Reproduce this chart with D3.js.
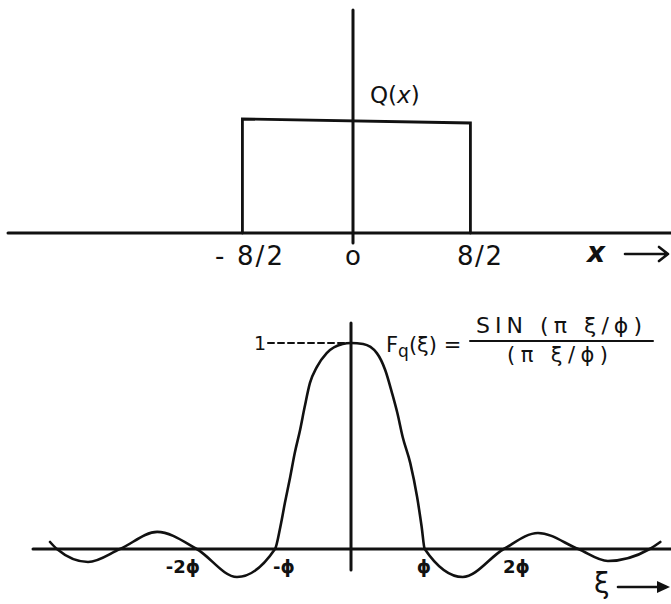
<!DOCTYPE html>
<html>
<head>
<script src="https://cdn.jsdelivr.net/npm/d3@7"></script>
<style>
  body { margin: 0; background: #fff; }
  text { font-family: "DejaVu Sans", sans-serif; fill: #111; }
</style>
</head>
<body>
<svg width="671" height="604"></svg>
<script>
// top panel: Q(x), edges in units of the half width, heights
var qEdges = [-0.97, 1.03];
var qLevels = [1.0, 0.965];
var qTicks = [-1, 0, 1];
var qTickLabels = ["- 8/2", "o", "8/2"];

// bottom panel: F_q(xi) as drawn by hand, xi in units of phi
var fXi = [-3.96, -3.87, -3.46, -3.04, -2.55, -2.03, -1.50, -1.0, -0.93, -0.87, -0.80, -0.74,
           -0.67, -0.61, -0.54, -0.45, -0.32, -0.11, 0, 0.16, 0.34, 0.45, 0.54, 0.61,
           0.68, 0.78, 0.87, 0.93, 0.97, 1.47, 2.01, 2.46, 2.99, 3.38, 3.93, 4.07];
var fVal = [0.034, 0, -0.063, 0, 0.083, 0, -0.136, 0, 0.107, 0.223, 0.35, 0.466,
            0.578, 0.689, 0.806, 0.883, 0.951, 0.995, 1, 0.995, 0.951, 0.869, 0.757, 0.66,
            0.544, 0.417, 0.252, 0.107, 0, -0.136, 0, 0.078, 0, -0.058, 0, 0.034];
var fTicks = [-2, -1, 1, 2];
var fTickLabels = ["-2\u03D5", "-\u03D5", "\u03D5", "2\u03D5"];
var fAnchors = ["end", "start", "middle", "start"];

var ink = "#111";
var svg = d3.select("svg");

// ---------- top ----------
var xTop = d3.scaleLinear().domain([-1, 1]).range([239, 467]);
var yTop = d3.scaleLinear().domain([0, 1]).range([233, 119]);

var gTop = svg.append("g").attr("stroke", ink).attr("fill", "none").attr("stroke-linecap", "round");

gTop.append("line")
    .attr("x1", 8).attr("x2", 671)
    .attr("y1", yTop(0)).attr("y2", yTop(0))
    .attr("stroke-width", 3);
gTop.append("line")
    .attr("x1", xTop(0)).attr("x2", xTop(0))
    .attr("y1", 10).attr("y2", yTop(0) + 10)
    .attr("stroke-width", 3);

var rectPts = [[qEdges[0], 0], [qEdges[0], qLevels[0]], [qEdges[1], qLevels[1]], [qEdges[1], 0]];
gTop.append("path")
    .attr("d", d3.line().x(function (d) { return xTop(d[0]); }).y(function (d) { return yTop(d[1]); })(rectPts))
    .attr("stroke-width", 2.8)
    .attr("stroke-linejoin", "miter");

svg.selectAll(".qtick")
    .data(qTicks)
    .enter().append("text")
    .attr("class", "qtick")
    .attr("x", function (d, i) { return xTop(d) + [-24, 0, -10][i]; })
    .attr("y", 265)
    .attr("text-anchor", function (d, i) { return ["start", "middle", "start"][i]; })
    .attr("textLength", function (d, i) { return [68, null, 45][i]; })
    .attr("lengthAdjust", "spacing")
    .style("font-size", "26px")
    .text(function (d, i) { return qTickLabels[i]; });

var qLab = svg.append("text").attr("x", 370).attr("y", 103).style("font-size", "23px");
qLab.append("tspan").text("Q(");
qLab.append("tspan").style("font-style", "italic").text("x");
qLab.append("tspan").text(")");

svg.append("text")
    .attr("x", 587).attr("y", 262)
    .style("font-size", "28px")
    .style("font-style", "italic")
    .style("font-weight", "bold")
    .text("x");
gTop.append("path")
    .attr("d", "M625,254 L668,254 M659,247 L668,254 L659,261")
    .attr("stroke-width", 2.6)
    .attr("stroke-linejoin", "round");

// ---------- bottom ----------
var xBot = d3.scaleLinear().domain([0, 1]).range([351, 427]);
var yBot = d3.scaleLinear().domain([0, 1]).range([549, 343]);

var gBot = svg.append("g").attr("stroke", ink).attr("fill", "none").attr("stroke-linecap", "round");

gBot.append("line")
    .attr("x1", 33).attr("x2", 671)
    .attr("y1", yBot(0)).attr("y2", yBot(0))
    .attr("stroke-width", 3);
gBot.append("line")
    .attr("x1", xBot(0)).attr("x2", xBot(0))
    .attr("y1", 323).attr("y2", 570)
    .attr("stroke-width", 3);

var curve = d3.line()
    .x(function (d, i) { return xBot(fXi[i]); })
    .y(function (d) { return yBot(d); })
    .curve(d3.curveMonotoneX);
gBot.append("path")
    .attr("d", curve(fVal))
    .attr("stroke-width", 2.6)
    .attr("stroke-linejoin", "round");

gBot.append("line")
    .attr("x1", 268).attr("x2", xBot(0) - 4)
    .attr("y1", yBot(1)).attr("y2", yBot(1))
    .attr("stroke-width", 2)
    .attr("stroke-dasharray", "6,4");

svg.append("text")
    .attr("x", 260).attr("y", yBot(1) + 7)
    .attr("text-anchor", "middle")
    .style("font-size", "19px")
    .text("1");

svg.selectAll(".ftick")
    .data(fTicks)
    .enter().append("text")
    .attr("class", "ftick")
    .attr("x", function (d, i) { return xBot(d) + [1, -2, -3, 0][i]; })
    .attr("y", 573)
    .attr("text-anchor", function (d, i) { return fAnchors[i]; })
    .style("font-size", "18px")
    .style("font-weight", "bold")
    .text(function (d, i) { return fTickLabels[i]; });

// formula
var fq = svg.append("text").attr("x", 386).attr("y", 352).style("font-size", "21px");
fq.append("tspan").text("F");
fq.append("tspan").attr("dy", 5).style("font-size", "17px").text("q");
fq.append("tspan").attr("dy", -5).text("(\u03BE) =");

svg.append("text")
    .attr("x", 476).attr("y", 333)
    .attr("textLength", 166).attr("lengthAdjust", "spacing")
    .style("font-size", "22px")
    .text("SIN (\u03C0 \u03BE/\u03D5)");
gBot.append("line")
    .attr("x1", 470).attr("x2", 653)
    .attr("y1", 341).attr("y2", 341)
    .attr("stroke-width", 2);
svg.append("text")
    .attr("x", 507).attr("y", 362)
    .attr("textLength", 101).attr("lengthAdjust", "spacing")
    .style("font-size", "21px")
    .text("(\u03C0 \u03BE/\u03D5)");

svg.append("text")
    .attr("x", 594).attr("y", 593)
    .style("font-size", "28px")
    .text("\u03BE");
gBot.append("line")
    .attr("x1", 618).attr("x2", 660)
    .attr("y1", 587).attr("y2", 587)
    .attr("stroke-width", 2.6);
svg.append("path")
    .attr("d", "M657,581 L670,587 L657,593 Z")
    .attr("fill", ink);
</script>
</body>
</html>
